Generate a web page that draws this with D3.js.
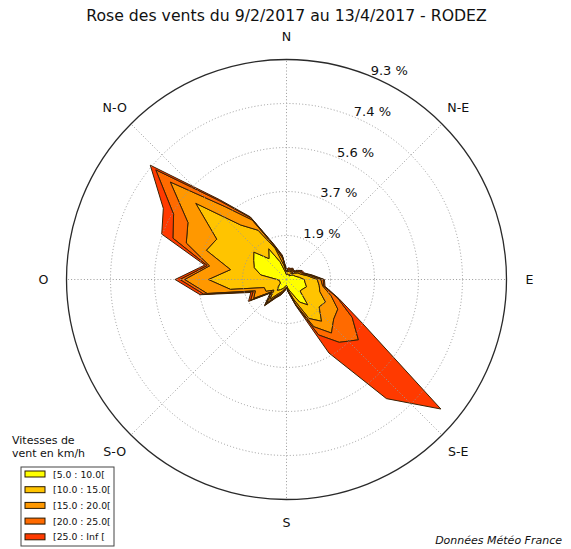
<!DOCTYPE html>
<html>
<head>
<meta charset="utf-8">
<script src="https://cdn.jsdelivr.net/npm/d3@7"></script>
<style>
  body { margin: 0; background: #fff; }
  svg { display: block; }
</style>
</head>
<body>
<div id="rose"></div>
<script>
// Rose des vents - fréquences (%) par secteur de 10° et par classe de vitesse
const DIRECTIONS = d3.range(0, 360, 10);
const CLASSES = ["[5.0 : 10.0[", "[10.0 : 15.0[", "[15.0 : 20.0[", "[20.0 : 25.0[", "[25.0 : Inf ["];
const COLORS  = ["#ffff00", "#ffc400", "#ff9800", "#ff6a00", "#ff3a00"];

//                0    10   20   30   40   50   60   70   80   90   100  110  120  130  140  150  160  170  180  190  200  210  220  230  240  250  260  270  280  290  300  310  320  330  340  350
const V5_10   = [0.20,0.25,0.20,0.25,0.20,0.30,0.35,0.40,0.55,0.75,0.80,0.90,0.80,0.75,1.40,1.10,0.60,0.40,0.25,0.30,0.40,0.50,0.60,0.45,0.30,0.30,0.30,0.40,1.10,1.45,1.60,1.80,1.15,1.50,0.80,0.35];
const V10_15  = [0.10,0.10,0.15,0.15,0.10,0.12,0.20,0.25,0.35,0.55,0.60,0.60,1.10,1.05,0.90,0.80,0.30,0.10,0.07,0.10,0.15,0.20,0.50,0.25,0.70,0.70,2.10,2.90,1.30,2.15,1.80,3.20,1.85,0.90,0.60,0.25];
const V15_20  = [0.05,0.05,0.07,0.05,0.08,0.08,0.10,0.07,0.10,0.15,0.15,0.50,0.60,0.80,0.65,0.40,0.20,0.05,0.04,0.05,0.07,0.10,0.20,0.10,0.60,0.40,1.00,1.00,0.90,0.90,1.40,1.40,1.00,0.50,0.10,0.30];
const V20_25  = [0.03,0.05,0.05,0.05,0.06,0.05,0.05,0.04,0.05,0.10,0.05,0.30,0.70,1.36,0.51,0.40,0.05,0.03,0.02,0.03,0.05,0.05,0.10,0.05,0.15,0.10,0.15,0.20,0.10,0.60,0.70,0.80,0.30,0.10,0.05,0.10];
const V25_INF = [0.04,0.05,0.03,0.05,0.04,0.05,0.06,0.04,0.05,0.05,0.05,0.05,0.50,4.54,3.10,0.88,0.05,0.02,0.02,0.02,0.03,0.05,0.05,0.05,0.10,0.10,0.15,0.20,0.10,0.50,0.50,0.30,0.10,0.05,0.05,0.05];

const RINGS   = [1.856, 3.712, 5.568, 7.424, 9.28];
const COMPASS = ["N", "N-E", "E", "S-E", "S", "S-O", "O", "N-O"];

const TITLE  = "Rose des vents du 9/2/2017 au 13/4/2017 - RODEZ";
const SOURCE = "Données Météo France";

// Mise en page
const W = 571, H = 549;
const cx = 286.5, cy = 279.5, R = 220;
const FONT = "'DejaVu Sans', sans-serif";

const svg = d3.select("#rose").append("svg")
  .attr("width", W).attr("height", H)
  .attr("viewBox", `0 0 ${W} ${H}`)
  .style("font-family", FONT);

svg.append("text")
  .attr("x", cx).attr("y", 21)
  .attr("text-anchor", "middle")
  .attr("font-size", 15.7)
  .attr("fill", "#111")
  .text(TITLE);

const r = d3.scaleLinear().domain([0, RINGS[RINGS.length - 1]]).range([0, R]);
const rad = deg => deg * Math.PI / 180;

const g = svg.append("g").attr("transform", `translate(${cx},${cy})`);

// Données empilées
const keys = ["c0", "c1", "c2", "c3", "c4"];
const rows = DIRECTIONS.map((dir, i) => ({
  dir,
  c0: V5_10[i], c1: V10_15[i], c2: V15_20[i], c3: V20_25[i], c4: V25_INF[i]
}));
const stacked = d3.stack().keys(keys)(rows);

const area = d3.areaRadial()
  .angle(d => rad(d.data.dir))
  .innerRadius(d => r(d[0]))
  .outerRadius(d => r(d[1]))
  .curve(d3.curveLinearClosed);

g.selectAll("path.band").data(stacked).join("path")
  .attr("class", "band")
  .attr("d", area)
  .attr("fill", (d, i) => COLORS[i])
  .attr("fill-rule", "evenodd")
  .attr("stroke", "#3a2204")
  .attr("stroke-width", 1)
  .attr("stroke-linejoin", "round");

// Grille (au-dessus des surfaces)
const grid = g.append("g").attr("fill", "none").attr("stroke", "#9a9a9a")
  .attr("stroke-width", 1).attr("stroke-dasharray", "1,2.2");

grid.selectAll("circle").data(RINGS.slice(0, -1)).join("circle")
  .attr("r", d => r(d));

grid.selectAll("line").data(d3.range(0, 360, 45)).join("line")
  .attr("x1", 0).attr("y1", 0)
  .attr("x2", d => R * Math.sin(rad(d)))
  .attr("y2", d => -R * Math.cos(rad(d)));

g.append("circle").attr("r", R)
  .attr("fill", "none").attr("stroke", "#2a2a2a").attr("stroke-width", 1.3);

// Étiquettes des cercles
g.selectAll("text.ring").data(RINGS).join("text")
  .attr("class", "ring")
  .attr("x", d => r(d) * Math.sin(rad(22.5)))
  .attr("y", d => -r(d) * Math.cos(rad(22.5)) - 1)
  .attr("font-size", 13)
  .attr("fill", "#111")
  .text(d => `${d3.format(".1f")(d)} %`);

// Points cardinaux
g.selectAll("text.compass").data(COMPASS).join("text")
  .attr("class", "compass")
  .attr("x", (d, i) => 243 * Math.sin(rad(i * 45)))
  .attr("y", (d, i) => -243 * Math.cos(rad(i * 45)))
  .attr("text-anchor", "middle")
  .attr("dominant-baseline", "central")
  .attr("font-size", 12.6)
  .attr("fill", "#111")
  .text(d => d);

// Légende
const leg = svg.append("g");
leg.append("text").attr("x", 12).attr("y", 444).attr("font-size", 11).attr("fill", "#111").text("Vitesses de");
leg.append("text").attr("x", 12).attr("y", 457).attr("font-size", 11).attr("fill", "#111").text("vent en km/h");

leg.append("rect")
  .attr("x", 21).attr("y", 467).attr("width", 93).attr("height", 79)
  .attr("fill", "#fff").attr("stroke", "#444").attr("stroke-width", 1);

const item = leg.selectAll("g.item").data(CLASSES).join("g")
  .attr("class", "item")
  .attr("transform", (d, i) => `translate(25, ${474 + i * 15.7})`);
item.append("rect")
  .attr("x", 0).attr("y", -3).attr("width", 20).attr("height", 6)
  .attr("fill", (d, i) => COLORS[i]).attr("stroke", "#2a1a00").attr("stroke-width", 1);
item.append("text")
  .attr("x", 28).attr("y", 0)
  .attr("dominant-baseline", "central")
  .attr("font-size", 9.3).attr("fill", "#111")
  .text(d => d);

svg.append("text")
  .attr("x", 562).attr("y", 544)
  .attr("text-anchor", "end")
  .attr("font-size", 11).attr("font-style", "italic").attr("fill", "#111")
  .text(SOURCE);
</script>
</body>
</html>
